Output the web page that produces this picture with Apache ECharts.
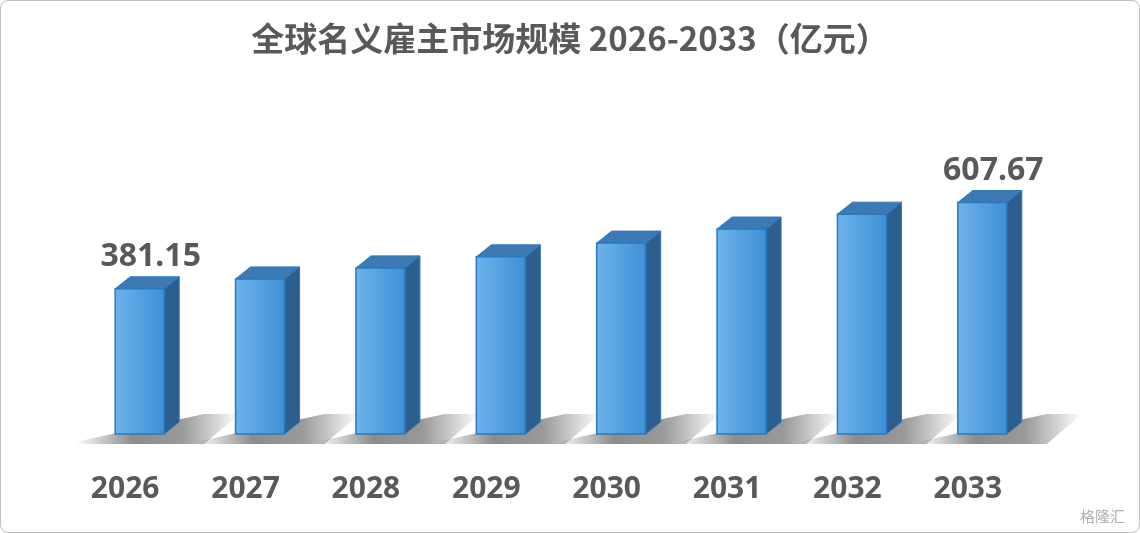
<!DOCTYPE html>
<html><head><meta charset="utf-8">
<script src="https://cdn.jsdelivr.net/npm/echarts@6/dist/echarts.min.js"></script>
<style>html,body{margin:0;padding:0;background:#fff}#c{width:1140px;height:533px;box-sizing:border-box;border:1px solid #bfbfbf;border-radius:8px}</style>
</head><body><div id="c"></div>
<script>
const categories=['2026','2027','2028','2029','2030','2031','2032','2033'];
const values=[381.15,407,436,465,501,538,577,607.67];
const labelShown=[true,false,false,false,false,false,false,true];
const chart=echarts.init(document.getElementById('c'));
chart.setOption({
  title:{text:'全球名义雇主市场规模 2026-2033（亿元）',left:'center',top:16,textStyle:{fontFamily:'Noto Sans CJK SC',fontWeight:'bold',fontSize:33,color:'#595959'}},
  grid:{left:64,right:111,top:52,bottom:98},
  xAxis:{type:'category',data:categories,axisLine:{show:false},axisTick:{show:false},
    axisLabel:{margin:40,fontFamily:'Noto Sans',fontWeight:'bold',fontSize:30,color:'#595959'}},
  yAxis:{type:'value',min:0,max:1000,show:false,splitLine:{show:false}},
  graphic:[{type:'text',right:14,bottom:8,style:{text:'格隆汇',fontFamily:'Noto Sans CJK SC',fontSize:15,fill:'#b0b0b0'}}],
  series:[{type:'custom',data:values.map((v,i)=>[i,v]),
    renderItem:(params,api)=>{
      const top=api.coord([api.value(0),api.value(1)]);
      const base=api.coord([api.value(0),0]);
      const x0=top[0]-10,x1=top[0]+39,dx=15,dy=12,y0=top[1],yb=base[1];
      return {type:'group',children:[
        {type:'polygon',shape:{points:[[x0-40,yb+8],[x1+dx+25,yb-20],[x1+dx+60,yb-20],[x1+40,yb+10],[x0-40,yb+10]]},
          style:{fill:new echarts.graphic.LinearGradient(0,0,1,0,[{offset:0,color:'rgba(0,0,0,0)'},{offset:0.35,color:'rgba(0,0,0,0.45)'},{offset:0.65,color:'rgba(0,0,0,0.4)'},{offset:1,color:'rgba(0,0,0,0)'}])},z2:0},
        {type:'polygon',shape:{points:[[x1,y0],[x1+dx,y0-dy],[x1+dx,yb-dy],[x1,yb]]},style:{fill:'#2d5f8e',stroke:'#2a78c0',lineWidth:1},z2:1},
        {type:'polygon',shape:{points:[[x0,y0],[x0+dx,y0-dy],[x1+dx,y0-dy],[x1,y0]]},style:{fill:'#3d7ab3',stroke:'#2a78c0',lineWidth:1},z2:1},
        {type:'rect',shape:{x:x0,y:y0,width:x1-x0,height:yb-y0},
          style:{fill:new echarts.graphic.LinearGradient(0,0,1,0,[{offset:0,color:'#6db3ea'},{offset:1,color:'#3d8fd6'}]),stroke:'#2a78c0',lineWidth:1.5},z2:2},
        labelShown[params.dataIndex]?{type:'text',style:{text:String(api.value(1)),x:(x0+x1)/2+11,y:y0-32,align:'center',verticalAlign:'middle',fontFamily:'Noto Sans',fontWeight:'bold',fontSize:32,fill:'#595959'},z2:3}:{type:'group',children:[]}
      ]};
    }}]
});
</script></body></html>
